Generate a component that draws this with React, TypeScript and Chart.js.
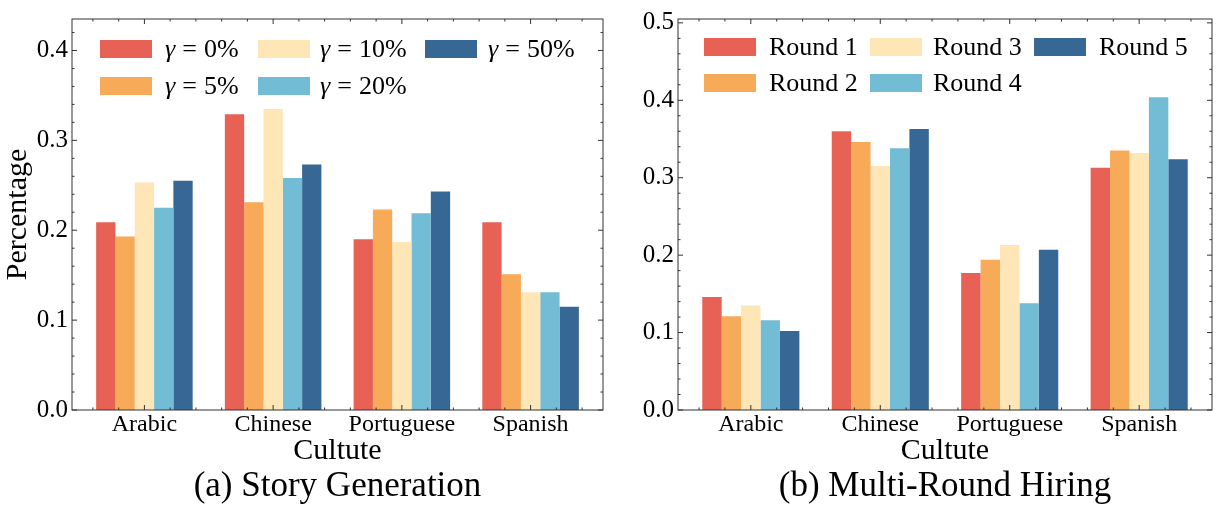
import { useEffect, useRef } from "react"
import { Chart, registerables } from "chart.js"

Chart.register(...registerables)

const categories = ["Arabic", "Chinese", "Portuguese", "Spanish"]
const colors = ["#e76254", "#f7aa58", "#ffe6b7", "#72bcd5", "#376795"]

// (a) Story Generation, one array per gamma
const storyLabels = ["0%", "5%", "10%", "20%", "50%"]
const storyGamma0 = [0.209, 0.329, 0.19, 0.209]
const storyGamma5 = [0.193, 0.231, 0.223, 0.151]
const storyGamma10 = [0.253, 0.335, 0.187, 0.131]
const storyGamma20 = [0.225, 0.258, 0.219, 0.131]
const storyGamma50 = [0.255, 0.273, 0.243, 0.115]
const storyTicks = [0, 0.1, 0.2, 0.3, 0.4]

// (b) Multi-Round Hiring, one array per round
const hiringLabels = ["Round 1", "Round 2", "Round 3", "Round 4", "Round 5"]
const hiringRound1 = [0.146, 0.36, 0.177, 0.313]
const hiringRound2 = [0.121, 0.346, 0.194, 0.335]
const hiringRound3 = [0.135, 0.315, 0.213, 0.332]
const hiringRound4 = [0.116, 0.338, 0.138, 0.404]
const hiringRound5 = [0.102, 0.363, 0.207, 0.324]
const hiringTicks = [0, 0.1, 0.2, 0.3, 0.4, 0.5]

const FONT = "'Liberation Serif', 'Times New Roman', Times, 'DejaVu Serif', 'Noto Serif', serif"

// inward ticks on all four sides + axes box, like the matplotlib "science" style
const framePlugin = {
  id: "frame",
  afterDatasetsDraw(chart: any) {
    const { ctx, chartArea, scales } = chart
    const { left, right, top, bottom } = chartArea
    const x = scales.x
    const y = scales.y
    ctx.save()
    ctx.strokeStyle = "#333"
    ctx.lineWidth = 1
    ctx.beginPath()
    for (let k = 0; k * 0.02 <= y.max + 1e-9; k++) {
      const py = y.getPixelForValue(k * 0.02)
      const len = k % 5 === 0 ? 5 : 2.5
      ctx.moveTo(left, py)
      ctx.lineTo(left + len, py)
      ctx.moveTo(right, py)
      ctx.lineTo(right - len, py)
    }
    for (let k = Math.ceil(x.min / 0.2); k * 0.2 <= x.max + 1e-9; k++) {
      const px = x.getPixelForValue(k * 0.2)
      const len = k % 5 === 0 ? 5 : 2.5
      ctx.moveTo(px, bottom)
      ctx.lineTo(px, bottom - len)
      ctx.moveTo(px, top)
      ctx.lineTo(px, top + len)
    }
    ctx.stroke()
    ctx.strokeRect(left, top, right - left, bottom - top)
    ctx.restore()
  },
}

type PanelProps = {
  series: number[][]
  labels: string[]
  ticks: number[]
  yMax: number
  yTitle?: string
  yWidth: number
  padRight: number
  caption: string
}

function GroupedBars({ series, labels, ticks, yMax, yTitle, yWidth, padRight, caption }: PanelProps) {
  const chartRef = useRef<HTMLCanvasElement>(null)
  const chartInstance = useRef<Chart | null>(null)

  useEffect(() => {
    if (!chartRef.current) return
    if (chartInstance.current) {
      chartInstance.current.destroy()
    }
    const ctx = chartRef.current.getContext("2d")
    if (!ctx) return

    chartInstance.current = new Chart(ctx, {
      type: "bar",
      data: {
        datasets: series.map((values, i) => ({
          label: labels[i],
          data: values.map((v, j) => ({ x: j, y: v })),
          backgroundColor: colors[i],
          borderWidth: 0,
          categoryPercentage: 0.75,
          barPercentage: 1,
        })),
      },
      options: {
        animation: false,
        responsive: true,
        maintainAspectRatio: false,
        layout: { padding: { left: 0, right: padRight, top: 14, bottom: 0 } },
        plugins: {
          legend: { display: false },
          tooltip: { enabled: false },
          title: {
            display: true,
            position: "bottom",
            fullSize: false,
            text: caption,
            color: "#000",
            font: { family: FONT, size: 35, weight: "normal", lineHeight: 1.2 },
            padding: 0,
          },
        },
        scales: {
          x: {
            type: "linear",
            min: -0.5625,
            max: 3.5625,
            offset: false,
            grid: { display: false, drawTicks: false, offset: false },
            border: { display: false },
            afterBuildTicks: (s: any) => {
              s.ticks = categories.map((_, i) => ({ value: i }))
            },
            afterFit: (s: any) => {
              s.height = 56
            },
            ticks: {
              autoSkip: false,
              maxRotation: 0,
              padding: 0,
              color: "#000",
              font: { family: FONT, size: 24, lineHeight: 1.2 },
              callback: (v: any) => categories[v] ?? "",
            },
            title: {
              display: true,
              text: "Cultute",
              color: "#000",
              font: { family: FONT, size: 30, lineHeight: 1 },
              padding: 0,
            },
          },
          y: {
            min: 0,
            max: yMax,
            grid: { display: false, drawTicks: false },
            border: { display: false },
            afterBuildTicks: (s: any) => {
              s.ticks = ticks.map((v) => ({ value: v }))
            },
            afterFit: (s: any) => {
              s.width = yWidth
            },
            ticks: {
              padding: 4,
              color: "#000",
              font: { family: FONT, size: 25 },
              callback: (v: any) => Number(v).toFixed(1),
            },
            title: {
              display: !!yTitle,
              text: yTitle ?? "",
              color: "#000",
              font: { family: FONT, size: 30, lineHeight: 1.2 },
              padding: 0,
            },
          },
        },
      },
      plugins: [framePlugin],
    })

    return () => {
      if (chartInstance.current) {
        chartInstance.current.destroy()
        chartInstance.current = null
      }
    }
  }, [series, labels, ticks, yMax, yTitle, yWidth, padRight, caption])

  return <canvas ref={chartRef} />
}

// legend drawn inside the axes, filled column by column (2 rows)
function Legend({
  labels,
  swatchX,
  textX,
  rowY,
  gamma,
}: {
  labels: string[]
  swatchX: number[]
  textX: number[]
  rowY: number[]
  gamma?: boolean
}) {
  return (
    <>
      {labels.map((label, i) => {
        const col = Math.floor(i / 2)
        const row = i % 2
        return (
          <div key={label}>
            <div
              style={{
                position: "absolute",
                left: swatchX[col],
                top: rowY[row],
                width: 52,
                height: 18,
                background: colors[i],
              }}
            />
            <div
              style={{
                position: "absolute",
                left: textX[col],
                top: rowY[row] + 9,
                transform: "translateY(-50%)",
                fontFamily: FONT,
                fontSize: 26,
                lineHeight: 1,
                whiteSpace: "nowrap",
                color: "#000",
              }}
            >
              {gamma ? (
                <>
                  <i>γ</i>
                  <span style={{ margin: "0 7px" }}>=</span>
                  {label}
                </>
              ) : (
                label
              )}
            </div>
          </div>
        )
      })}
    </>
  )
}

export default function App() {
  const storySeries = [storyGamma0, storyGamma5, storyGamma10, storyGamma20, storyGamma50]
  const hiringSeries = [hiringRound1, hiringRound2, hiringRound3, hiringRound4, hiringRound5]

  return (
    <div style={{ position: "fixed", left: 0, top: 0, width: 1223, height: 508, background: "#fff" }}>
      <div style={{ position: "absolute", left: 0, top: 0, width: 610, height: 508 }}>
        <GroupedBars
          series={storySeries}
          labels={storyLabels}
          ticks={storyTicks}
          yMax={0.435}
          yTitle="Percentage"
          yWidth={72}
          padRight={7}
          caption="(a) Story Generation"
        />
        <Legend labels={storyLabels} swatchX={[100, 258, 425]} textX={[165, 320, 488]} rowY={[40, 77]} gamma />
      </div>
      <div style={{ position: "absolute", left: 610, top: 0, width: 613, height: 508 }}>
        <GroupedBars
          series={hiringSeries}
          labels={hiringLabels}
          ticks={hiringTicks}
          yMax={0.505}
          yWidth={68}
          padRight={11}
          caption="(b) Multi-Round Hiring"
        />
        <Legend labels={hiringLabels} swatchX={[94, 260, 424]} textX={[159, 323, 489]} rowY={[38, 74]} />
      </div>
    </div>
  )
}
